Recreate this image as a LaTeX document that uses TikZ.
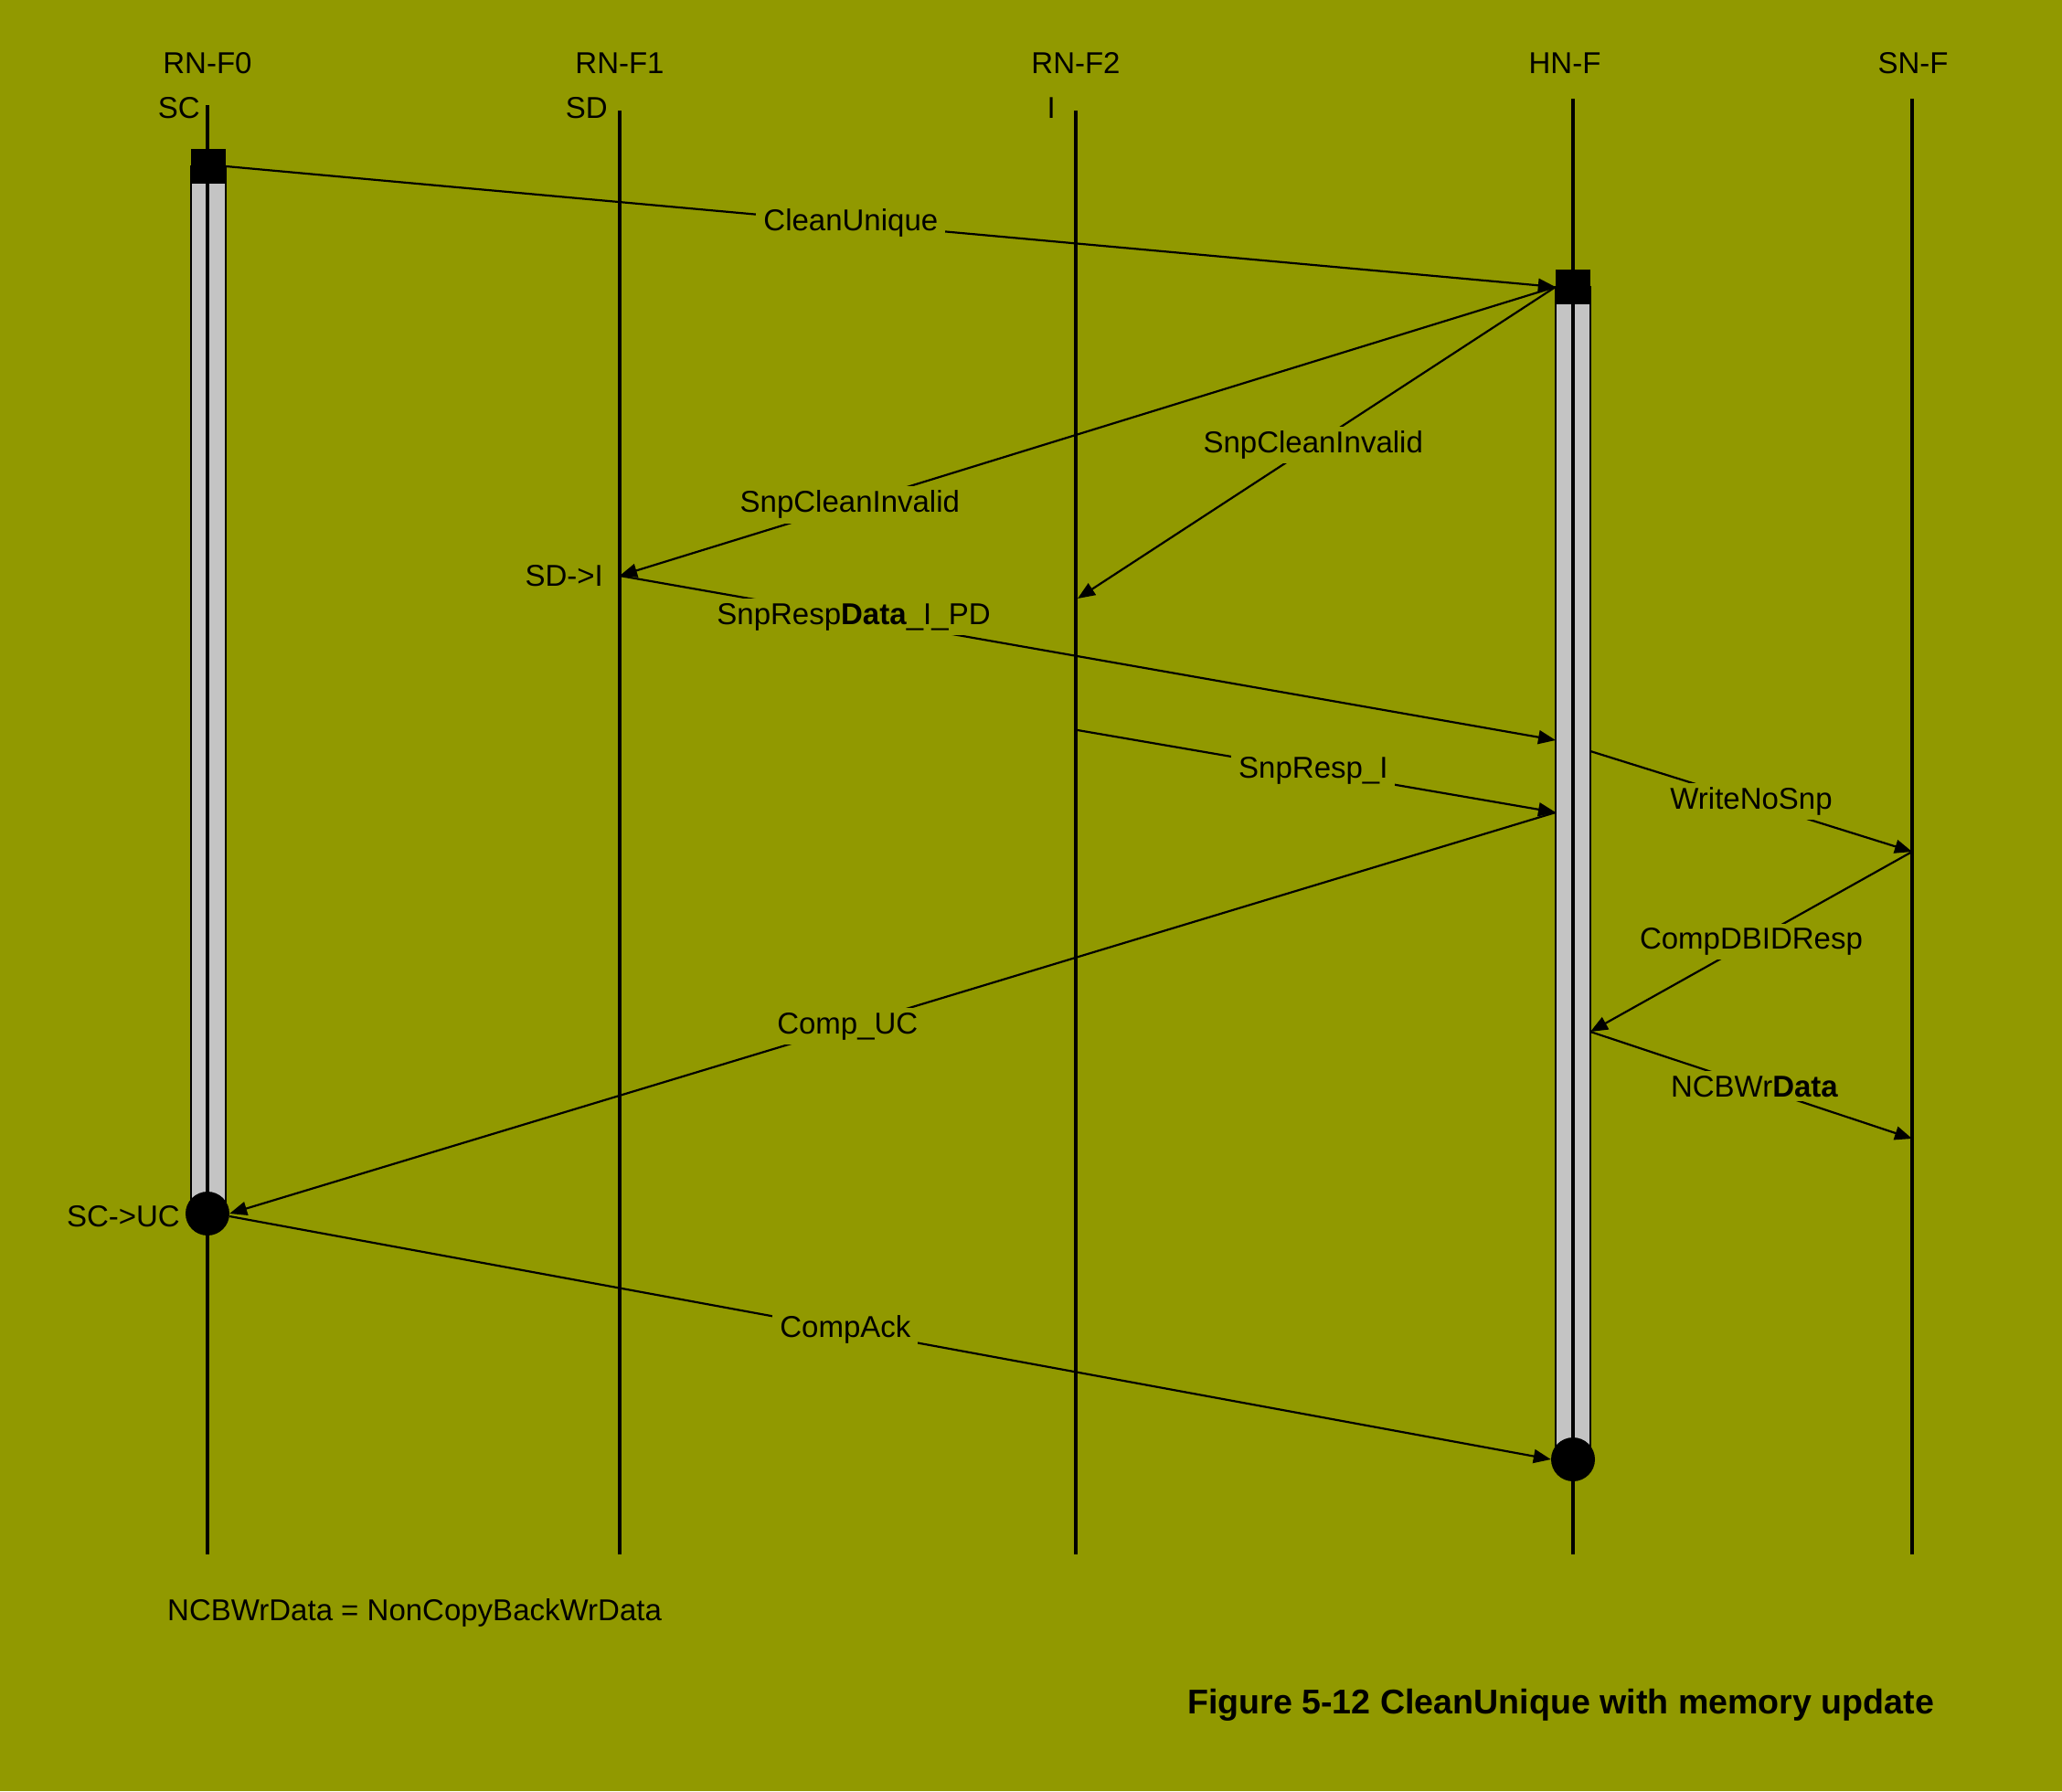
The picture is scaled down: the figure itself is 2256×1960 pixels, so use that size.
\documentclass[tikz,border=0pt]{standalone}
\usepackage{fontspec}
\setmainfont{Liberation Sans}
\usetikzlibrary{arrows.meta}
\definecolor{olivebg}{RGB}{145,153,0}
\definecolor{bargray}{RGB}{196,196,196}

\begin{document}
\begin{tikzpicture}[x=1pt,y=-1pt,>={Triangle[length=19pt,width=15pt]},
  txt/.style={inner sep=0pt,font=\fontsize{33}{40}\selectfont},
  lbl/.style={fill=olivebg,inner xsep=8pt,inner ysep=5pt,font=\fontsize{33}{40}\selectfont},
  life/.style={line width=4.5pt},
  msg/.style={->,line width=2.2pt},
  bar/.style={fill=bargray,draw=black,line width=1.2pt},
  req/.style={fill=black,inner sep=0pt,minimum size=38pt},
  done/.style={circle,fill=black,inner sep=0pt,minimum size=48pt}]
  \fill[olivebg](0,0) rectangle (2256,1960);
  \useasboundingbox (0,0) rectangle (2256,1960);
  % heads and start states
  \node[txt] (f0) at (227,69){RN-F0};
  \node[txt] (f1) at (678,69){RN-F1};
  \node[txt] (f2) at (1177,69){RN-F2};
  \node[txt] (hn) at (1712,69){HN-F};
  \node[txt] (sn) at (2093,69){SN-F};
  \node[txt,anchor=east] (f0st) at (219,118){SC};
  \node[txt,anchor=east] (f1st) at (665,118){SD};
  \node[txt,anchor=east] (f2st) at (1155,118){I};
  % lifelines
  \coordinate (f0-top) at (227,115);  \coordinate (f0-bot) at (227,1701);
  \coordinate (f1-top) at (678,121);  \coordinate (f1-bot) at (678,1701);
  \coordinate (f2-top) at (1177,121); \coordinate (f2-bot) at (1177,1701);
  \coordinate (hn-top) at (1721,108); \coordinate (hn-bot) at (1721,1701);
  \coordinate (sn-top) at (2092,108); \coordinate (sn-bot) at (2092,1701);
  \draw[bar](209,182) rectangle (247,1328);
  \draw[bar](1702,314) rectangle (1740,1597);
  \foreach \n in {f0,f1,f2,hn,sn}
    \draw[life](\n-top)--(\n-bot);
  \node[req] (f0req) at (228,182){};
  \node[done] (f0done) at (227,1328){};
  \node[req] (hnreq) at (1721,314){};
  \node[done] (hndone) at (1721,1597){};
  % message ends
  \coordinate (f1snp) at (678,630);
  \coordinate (f2snp) at (1179,655);
  \coordinate (f2rsp) at (1179,799);
  \coordinate (hndat) at (1702,810);
  \coordinate (hnrsp) at (1702,889);
  \coordinate (hnwr)  at (1740,822);
  \coordinate (hndb)  at (1740,1129);
  \coordinate (snwr)  at (2092,932);
  \coordinate (sndat) at (2092,1246);
  % request and snoops
  \draw[msg](f0req.east)--node[lbl,pos=0.47]{CleanUnique}(hnreq.west);
  \draw[msg](hnreq.west)--node[lbl,pos=0.754]{SnpCleanInvalid}(f1snp);
  \draw[msg](hnreq.west)--node[lbl,pos=0.507]{SnpCleanInvalid}(f2snp);
  \node[txt,anchor=east] (f1new) at (660,630){SD->I};
  % responses
  \draw[msg](f1snp)--node[lbl,pos=0.25]{SnpResp\textbf{Data}\_I\_PD}(hndat);
  \draw[msg](f2rsp)--node[lbl,pos=0.493]{SnpResp\_I}(hnrsp);
  % memory update
  \draw[msg](hnwr)--node[lbl,pos=0.5]{WriteNoSnp}(snwr);
  \draw[msg](snwr)--node[lbl,pos=0.5]{CompDBIDResp}(hndb);
  \draw[msg](hndb)--node[lbl,pos=0.51]{NCBWr\textbf{Data}}(sndat);
  % completion
  \draw[msg](hnrsp)--node[lbl,pos=0.534]{Comp\_UC}(f0done.east);
  \node[txt,anchor=east] (f0new) at (197,1331){SC->UC};
  \draw[msg]([yshift=-3pt]f0done.east)--node[lbl,pos=0.466]{CompAck}(hndone.west);
  \node[txt,anchor=west] (note) at (183,1765){NCBWrData = NonCopyBackWrData};
  \node[anchor=west,inner sep=0pt,font=\fontsize{37.6}{45}\selectfont\bfseries] (cap)
       at (1299,1866){Figure 5-12 CleanUnique with memory update};
\end{tikzpicture}
\end{document}
